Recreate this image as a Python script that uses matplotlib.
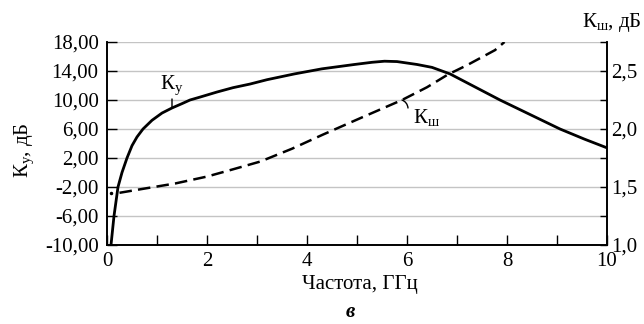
import matplotlib
matplotlib.use('Agg')
import matplotlib.pyplot as plt
from matplotlib.ticker import MultipleLocator, FuncFormatter

plt.rcParams['font.family'] = ['Liberation Serif', 'DejaVu Serif']
plt.rcParams['mathtext.fontset'] = 'custom'
plt.rcParams['mathtext.rm'] = 'Liberation Serif'
plt.rcParams['mathtext.it'] = 'Liberation Serif:italic'

# Kу (gain), dB vs frequency, GHz
freq_ku = [0.08, 0.11, 0.14, 0.18, 0.22, 0.30, 0.40, 0.50, 0.60, 0.72, 0.90,
           1.10, 1.30, 1.50, 1.66, 1.86, 2.20, 2.52, 2.86, 3.20, 3.75, 4.30,
           4.95, 5.30, 5.55, 5.80, 6.00, 6.20, 6.50, 6.86, 7.36, 7.86, 8.46,
           9.06, 9.55, 10.0]
ku = [-10.0, -8.0, -6.0, -4.0, -2.0, 0.0, 2.0, 3.7, 4.9, 6.0, 7.2,
      8.2, 8.9, 9.5, 10.0, 10.4, 11.1, 11.7, 12.2, 12.8, 13.6, 14.3,
      14.9, 15.2, 15.35, 15.3, 15.1, 14.9, 14.5, 13.6, 11.8, 10.0, 8.0,
      6.0, 4.6, 3.4]

# Kш (noise figure), dB vs frequency, GHz
freq_ksh = [0.25, 0.80, 1.36, 2.00, 2.50, 3.07, 3.70, 4.31, 5.10, 5.90,
            6.40, 6.82, 7.20, 7.76, 7.95]
ksh = [1.45, 1.49, 1.53, 1.59, 1.65, 1.72, 1.83, 1.95, 2.10, 2.25,
       2.36, 2.47, 2.55, 2.68, 2.75]
ksh_dot_f = [0.08]
ksh_dot = [1.45]

left_ticks = [-10, -6, -2, 2, 6, 10, 14, 18]

fig = plt.figure(figsize=(6.44, 3.24), dpi=100)
ax = fig.add_axes([107 / 644, 79 / 324, 500 / 644, 203 / 324])
ax2 = ax.twinx()

ax.set_xlim(0, 10)
ax.set_ylim(-10, 18)
ax2.set_ylim(1.0, 2.75)

ax.set_yticks(left_ticks)
ax.yaxis.set_major_formatter(FuncFormatter(lambda v, p: f'{v:.2f}'.replace('.', ',')))
ax.xaxis.set_major_locator(MultipleLocator(2))
ax.xaxis.set_minor_locator(MultipleLocator(1))
ax.xaxis.set_major_formatter(FuncFormatter(lambda v, p: f'{v:.0f}'))
ax2.yaxis.set_major_locator(MultipleLocator(0.5))
ax2.yaxis.set_minor_locator(MultipleLocator(0.25))
ax2.yaxis.set_major_formatter(FuncFormatter(lambda v, p: f'{v:.1f}'.replace('.', ',')))

ax.yaxis.grid(True, color='#c4c4c4', lw=1)
ax.set_axisbelow(True)

for a in (ax, ax2):
    a.spines['top'].set_visible(False)
    for s in ('left', 'right', 'bottom'):
        a.spines[s].set_linewidth(1.2)

ax.tick_params(axis='y', direction='in', length=7, width=1, labelsize=15, pad=6)
ax.tick_params(axis='x', which='both', direction='in', length=7, width=1, labelsize=15, pad=5)
ax2.tick_params(axis='y', which='both', direction='in', length=5, width=1, labelsize=15, pad=3)

ax.plot(freq_ku, ku, color='black', lw=2)
ax2.plot(freq_ksh, ksh, color='black', lw=1.8, dashes=(5, 2.5))
ax2.plot(ksh_dot_f, ksh_dot, 'k.', ms=3)

# curve labels with short pointers
i = freq_ku.index(1.30)
ax.annotate('', xy=(freq_ku[i], ku[i]), xytext=(0, 9), textcoords='offset pixels',
            arrowprops=dict(arrowstyle='-', color='black', lw=1, shrinkA=0, shrinkB=0))
ax.annotate('К$_{\\mathrm{у}}$', xy=(freq_ku[i], ku[i]), xytext=(0, 23),
            textcoords='offset pixels', ha='center', va='center', fontsize=15)
j = freq_ksh.index(5.90)
ax2.annotate('', xy=(freq_ksh[j], ksh[j]), xytext=(6, -8), textcoords='offset pixels',
             arrowprops=dict(arrowstyle='-', color='black', lw=1, shrinkA=0, shrinkB=0,
                             connectionstyle='arc3,rad=0.3'))
ax2.annotate('К$_{\\mathrm{ш}}$', xy=(freq_ksh[j], ksh[j]), xytext=(11, -18),
             textcoords='offset pixels', ha='left', va='center', fontsize=15)

ax.set_xlabel('Частота, ГГц', fontsize=15, va='center')
ax.xaxis.set_label_coords((360 - 107) / 500, (245 - 285) / 203)
ax.set_ylabel('К$_{\\mathrm{у}}$, дБ', fontsize=15, va='center')
ax.yaxis.set_label_coords((24 - 107) / 500, (245 - 150) / 203)
ax2.set_ylabel('К$_{\\mathrm{ш}}$, дБ', fontsize=15, rotation=0, ha='right', va='center')
ax2.yaxis.set_label_coords((642 - 107) / 500, (245 - 23) / 203)

fig.text(350 / 644, 1 - 312 / 324, 'в', fontsize=15, style='italic', weight='bold',
         ha='center', va='center')

fig.savefig('out.png', dpi=100)
